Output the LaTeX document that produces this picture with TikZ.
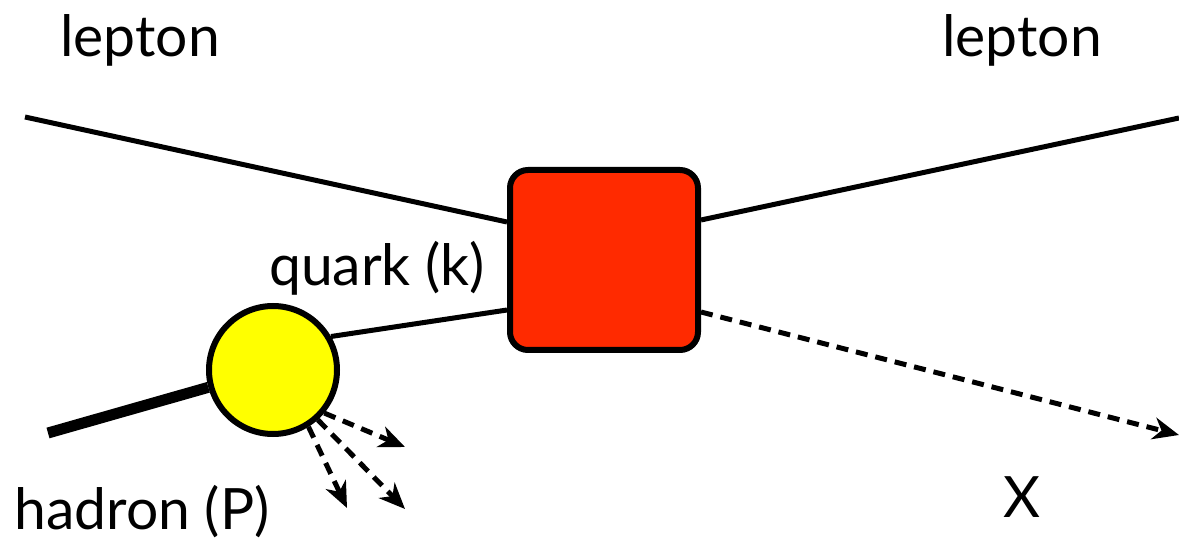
\documentclass[tikz,border=0pt]{standalone}
\usepackage{fontspec}
\setmainfont{Lato}
\usetikzlibrary{arrows.meta}
\definecolor{boxred}{HTML}{FF2A00}
\definecolor{blobyellow}{HTML}{FFFF00}
\tikzset{
  line/.style={line width=5pt},
  dashline/.style={line width=5pt, dash pattern=on 12pt off 8pt, -{Stealth[length=26pt,width=22pt,inset=8pt]}},
  lbl/.style={font=\fontsize{57}{62}\selectfont, inner sep=0pt},
}
\begin{document}
\begin{tikzpicture}[x=1pt,y=-1pt]
\useasboundingbox (0,0) rectangle (1179,545);
\node[draw, line width=6pt, fill=boxred, rounded corners=18pt, minimum width=188pt, minimum height=180pt] (box) at (604,260) {};
\node[draw, line width=6pt, fill=blobyellow, circle, minimum size=128pt, inner sep=0pt] (blob) at (273,370) {};
\coordinate (lin) at (25,117);
\coordinate (lout) at (1179,118);
\coordinate (hin) at (48,433);
\coordinate (xend) at (1179,435);
\coordinate (a1) at (405,447);
\coordinate (a2) at (347,508);
\coordinate (a3) at (405,509);
\draw[line] (lin) -- (box.west |- 0,222);
\draw[line] (box.east |- 0,220) -- (lout);
\draw[line] (blob.30) -- (box.west |- 0,310);
\draw[line width=11pt] (hin) -- (blob.195);
\draw[dashline] (box.east |- 0,312) -- (xend);
\draw[dashline] (blob.-40) -- (a1);
\draw[dashline] (blob.-58) -- (a2);
\draw[dashline] (blob.-48) -- (a3);
\node[lbl] (l1) at (140,40) {lepton};
\node[lbl] (l2) at (1022,40) {lepton};
\node[lbl] (q) at (377,268) {quark (k)};
\node[lbl] (h) at (142,512) {hadron (P)};
\node[lbl] (x) at (1022,497) {X};
\end{tikzpicture}
\end{document}
